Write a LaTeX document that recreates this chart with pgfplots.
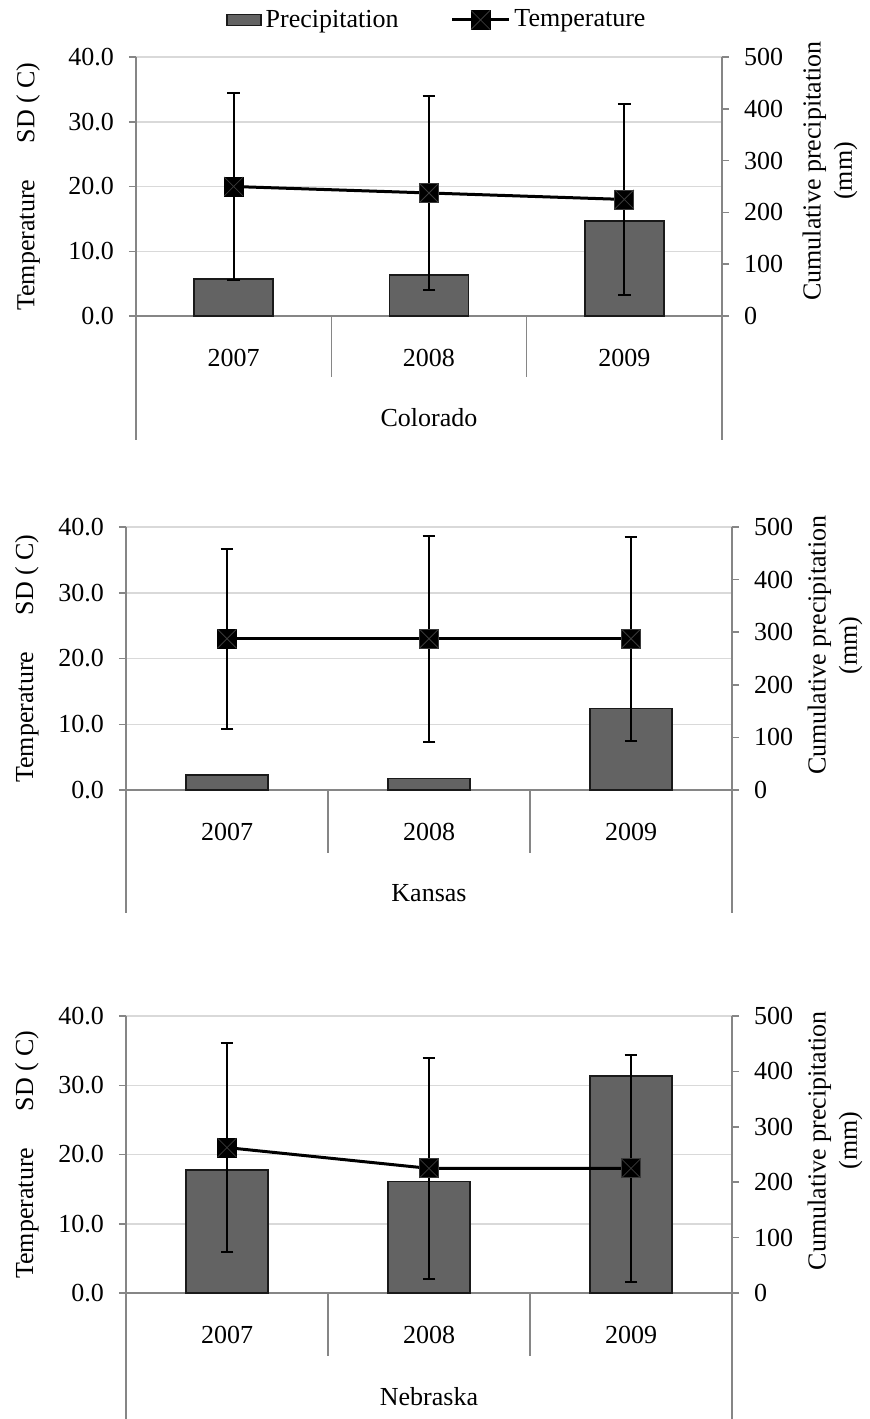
\documentclass[border=0pt]{standalone}
\usepackage{pgfplots}
\pgfplotsset{compat=1.18}
\usepackage{fontspec}
\setmainfont{Liberation Serif}
\definecolor{barfill}{HTML}{636363}
\definecolor{bardraw}{HTML}{1A1A1A}
\definecolor{gridc}{HTML}{D9D9D9}
\definecolor{axisc}{HTML}{868686}
\definecolor{xc}{HTML}{3A3A3A}
\pgfdeclareplotmark{sqx}{%
  \pgfpathrectangle{\pgfqpoint{-\pgfplotmarksize}{-\pgfplotmarksize}}{\pgfqpoint{2\pgfplotmarksize}{2\pgfplotmarksize}}%
  \pgfusepathqfillstroke
  \pgfsetstrokecolor{xc}%
  \pgfpathmoveto{\pgfqpoint{-\pgfplotmarksize}{-\pgfplotmarksize}}%
  \pgfpathlineto{\pgfqpoint{\pgfplotmarksize}{\pgfplotmarksize}}%
  \pgfpathmoveto{\pgfqpoint{-\pgfplotmarksize}{\pgfplotmarksize}}%
  \pgfpathlineto{\pgfqpoint{\pgfplotmarksize}{-\pgfplotmarksize}}%
  \pgfusepathqstroke
}
\newcommand{\fs}{\fontsize{13}{15.6}\selectfont}
\tikzset{sepline/.style={axisc, line width=0.75pt}}
\pgfplotsset{
  base/.style={
    scale only axis, clip=false,
    xmin=-0.5, xmax=2.5,
    axis line style={axisc, line width=0.75pt},
    tick label style={font=\fs},
    label style={font=\fs},
    /pgf/number format/assume math mode=true,
    tick align=outside, major tick length=3.5pt,
  },
  tempaxis/.style={
    base, ymin=0, ymax=40, ytick={0,10,20,30,40},
    axis x line*=bottom, axis y line*=left,
    xtick={0,1,2}, xticklabels={2007,2008,2009},
    major x tick style={draw=none},
    xticklabel style={anchor=center, yshift=-17.5pt},
    ytick style={axisc, line width=0.75pt},
    yticklabel style={xshift=-4pt, /pgf/number format/fixed, /pgf/number format/fixed zerofill, /pgf/number format/precision=1},
    ymajorgrids, grid style={gridc, line width=0.75pt},
    ylabel={Temperature\hspace{1.4em}SD ( C)},
  },
  precaxis/.style={
    base, ymin=0, ymax=500, ytick={0,100,...,500},
    axis y line*=right, axis x line=none,
    ytick style={axisc, line width=0.75pt},
    yticklabel style={xshift=4pt},
    ybar, bar width=0.405,
    ylabel={Cumulative precipitation\\(mm)},
  },
  lineaxis/.style={base, ymin=0, ymax=40, hide axis},
  tline/.style={black, line width=1.5pt, mark=sqx, mark size=4.75pt,
    mark options={fill=black, draw=black, line width=0.4pt},
    legend image code/.code={\draw[mark repeat=2,mark phase=2,##1] plot coordinates {(0cm,0cm) (0.5cm,0cm) (1cm,0cm)};},
    error bars/.cd, y dir=both, y explicit,
    error bar style={line width=1pt, black},
    error mark options={rotate=90, mark size=3.2pt, line width=1pt, black}},
  bars/.style={fill=barfill, draw=bardraw, line width=0.75pt},
}
\begin{document}
\begin{tikzpicture}
\useasboundingbox (0,0) rectangle (435pt,-709.5pt);
% ---------------- Panel 1: Colorado ----------------
\begin{axis}[tempaxis, at={(68pt,-158pt)}, anchor=south west, width=293pt, height=129.5pt,
  ylabel style={at={(axis description cs:-0.1843,0.5)}, anchor=center}]
  \draw[sepline] (axis cs:0.5,0) -- ([yshift=-30.5pt]axis cs:0.5,0);
  \draw[sepline] (axis cs:1.5,0) -- ([yshift=-30.5pt]axis cs:1.5,0);
  \draw[sepline] (axis cs:-0.5,0) -- ([yshift=-62pt]axis cs:-0.5,0);
  \draw[sepline] (axis cs:2.5,0) -- ([yshift=-62pt]axis cs:2.5,0);
  \node[font=\fs] at (axis cs:1,0) [yshift=-51pt] {Colorado};
\end{axis}
\begin{axis}[precaxis, at={(68pt,-158pt)}, anchor=south west, width=293pt, height=129.5pt,
  ylabel style={at={(axis description cs:1.1843,0.56)}, anchor=center, align=center}]
  \addplot[bars] coordinates {(0,71) (1,79) (2,183)};
\end{axis}
\begin{axis}[lineaxis, at={(68pt,-158pt)}, anchor=south west, width=293pt, height=129.5pt,
  legend style={draw=none, fill=none, at={(0.515,1.143)}, anchor=center, font=\fs, legend columns=2,
    /tikz/every even column/.append style={column sep=24pt}}]
  \addlegendimage{area legend, fill=barfill, draw=bardraw, line width=0.75pt}
  \addlegendentry{Precipitation}
  \addplot[tline] coordinates {(0,20) +- (0,14.5) (1,19) +- (0,15.0) (2,18) +- (0,14.8)};
  \addlegendentry{Temperature}
\end{axis}
% ---------------- Panel 2: Kansas ----------------
\begin{axis}[tempaxis, at={(63pt,-395pt)}, anchor=south west, width=303pt, height=131.5pt,
  ylabel style={at={(axis description cs:-0.1634,0.5)}, anchor=center}]
  \draw[sepline] (axis cs:0.5,0) -- ([yshift=-31.5pt]axis cs:0.5,0);
  \draw[sepline] (axis cs:1.5,0) -- ([yshift=-31.5pt]axis cs:1.5,0);
  \draw[sepline] (axis cs:-0.5,0) -- ([yshift=-61.5pt]axis cs:-0.5,0);
  \draw[sepline] (axis cs:2.5,0) -- ([yshift=-61.5pt]axis cs:2.5,0);
  \node[font=\fs] at (axis cs:1,0) [yshift=-51.5pt] {Kansas};
\end{axis}
\begin{axis}[precaxis, at={(63pt,-395pt)}, anchor=south west, width=303pt, height=131.5pt,
  ylabel style={at={(axis description cs:1.170,0.55)}, anchor=center, align=center}]
  \addplot[bars] coordinates {(0,29) (1,22) (2,155)};
\end{axis}
\begin{axis}[lineaxis, at={(63pt,-395pt)}, anchor=south west, width=303pt, height=131.5pt]
  \addplot[tline] coordinates {(0,23) +- (0,13.7) (1,23) +- (0,15.7) (2,23) +- (0,15.5)};
\end{axis}
% ---------------- Panel 3: Nebraska ----------------
\begin{axis}[tempaxis, at={(63pt,-646.5pt)}, anchor=south west, width=303pt, height=138.5pt,
  ylabel style={at={(axis description cs:-0.1634,0.5)}, anchor=center}]
  \draw[sepline] (axis cs:0.5,0) -- ([yshift=-31.5pt]axis cs:0.5,0);
  \draw[sepline] (axis cs:1.5,0) -- ([yshift=-31.5pt]axis cs:1.5,0);
  \draw[sepline] (axis cs:-0.5,0) -- ([yshift=-63pt]axis cs:-0.5,0);
  \draw[sepline] (axis cs:2.5,0) -- ([yshift=-63pt]axis cs:2.5,0);
  \node[font=\fs] at (axis cs:1,0) [yshift=-52pt] {Nebraska};
\end{axis}
\begin{axis}[precaxis, at={(63pt,-646.5pt)}, anchor=south west, width=303pt, height=138.5pt,
  ylabel style={at={(axis description cs:1.170,0.55)}, anchor=center, align=center}]
  \addplot[bars] coordinates {(0,222) (1,201) (2,392)};
\end{axis}
\begin{axis}[lineaxis, at={(63pt,-646.5pt)}, anchor=south west, width=303pt, height=138.5pt]
  \addplot[tline] coordinates {(0,21) +- (0,15.1) (1,18) +- (0,16.0) (2,18) +- (0,16.4)};
\end{axis}
\end{tikzpicture}
\end{document}
